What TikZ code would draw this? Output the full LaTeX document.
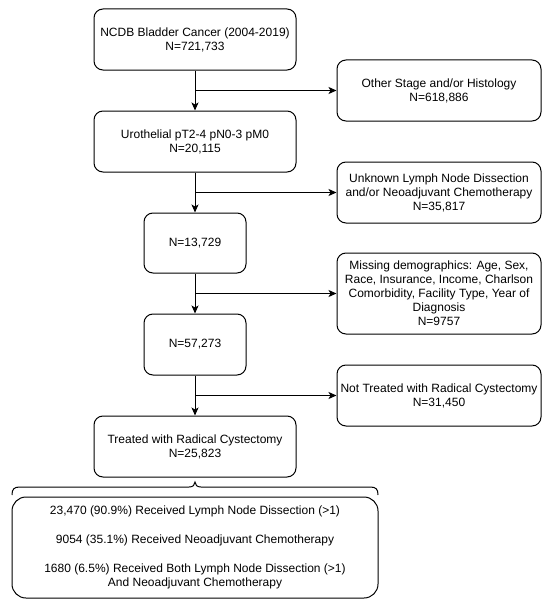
\documentclass[tikz,border=0pt]{standalone}
\usepackage{fontspec}
\setmainfont{Liberation Sans}
\usetikzlibrary{arrows.meta}
\newcommand{\fsz}{\fontsize{12}{14}\selectfont}
\begin{document}
\begin{tikzpicture}[x=1pt,y=-1pt,
  box/.style={draw, rounded corners=9pt, line width=1pt, align=center, inner sep=0pt, font=\fsz},
  arr/.style={line width=1pt, -{Stealth[length=8pt,width=7pt,inset=2pt]}},
  brc/.style={line width=1pt}]
\useasboundingbox (0,0) rectangle (550,610);
\node[box, minimum width=202pt, minimum height=61pt] (b1) at (195,39.5) {NCDB Bladder Cancer (2004-2019)\\N=721,733};
\node[box, minimum width=202pt, minimum height=61pt] (b2) at (195,141.5) {Urothelial pT2-4 pN0-3 pM0\\N=20,115};
\node[box, minimum width=102pt, minimum height=60pt] (b3) at (195,243) {N=13,729};
\node[box, minimum width=102pt, minimum height=61pt] (b4) at (195,344.5) {N=57,273};
\node[box, minimum width=202pt, minimum height=61pt] (b5) at (195,446.5) {Treated with Radical Cystectomy\\N=25,823};
\node[box, minimum width=204pt, minimum height=61pt] (r1) at (439,90.5) {Other Stage and/or Histology\\N=618,886};
\node[box, minimum width=204pt, minimum height=61pt] (r2) at (439,192.5) {Unknown Lymph Node Dissection\\and/or Neoadjuvant Chemotherapy\\N=35,817};
\node[box, minimum width=204pt, minimum height=81pt] (r3) at (439,293.5) {Missing demographics: Age, Sex,\\Race, Insurance, Income, Charlson\\Comorbidity, Facility Type, Year of\\Diagnosis\\N=9757};
\node[box, minimum width=204pt, minimum height=61pt] (r4) at (439,395.5) {Not Treated with Radical Cystectomy\\N=31,450};
\node[box, rounded corners=14pt, minimum width=366pt, minimum height=101pt] (bt) at (195,547.5) {23,470 (90.9\%) Received Lymph Node Dissection (>1)\\[15pt]9054 (35.1\%) Received Neoadjuvant Chemotherapy\\[15pt]1680 (6.5\%) Received Both Lymph Node Dissection (>1)\\And Neoadjuvant Chemotherapy};
\draw[arr] (b1) -- (b2);
\draw[arr] (b2) -- (b3);
\draw[arr] (b3) -- (b4);
\draw[arr] (b4) -- (b5);
\draw[arr] (b1.south |- r1.west) -- (r1.west);
\draw[arr] (b2.south |- r2.west) -- (r2.west);
\draw[arr] (b3.south |- r3.west) -- (r3.west);
\draw[arr] (b4.south |- r4.west) -- (r4.west);
\coordinate (bl) at (12,495);
\coordinate (br) at (378,495);
\coordinate (bc) at (195,482);
\draw[brc] (bl) .. controls (12,489) and (14,487) .. (20,487) -- (189,487)
  .. controls (193,487) and (195,485) .. (bc)
  .. controls (195,485) and (197,487) .. (201,487) -- (370,487)
  .. controls (376,487) and (378,489) .. (br);
\end{tikzpicture}
\end{document}
